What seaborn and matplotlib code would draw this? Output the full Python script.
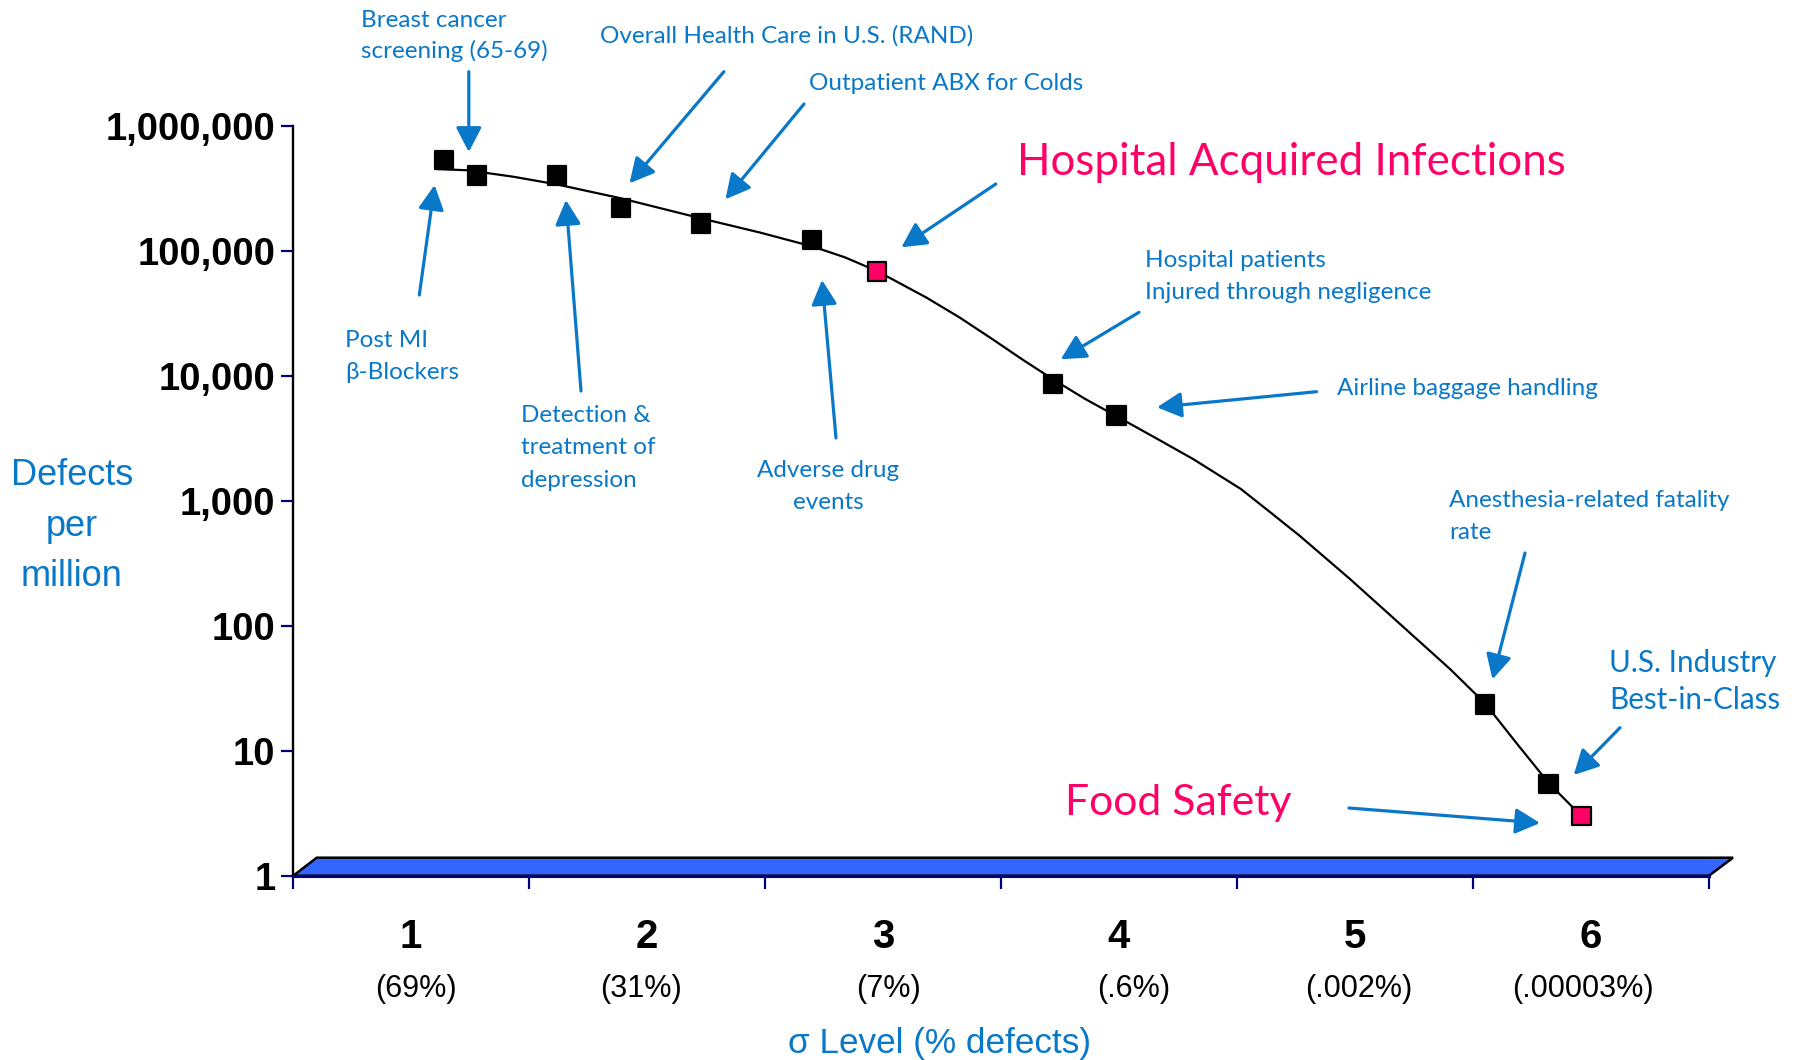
import numpy as np
import pandas as pd
import matplotlib
matplotlib.use("Agg")
import matplotlib.pyplot as plt
import seaborn as sns
from matplotlib.patches import Polygon
from matplotlib.ticker import NullLocator, FixedLocator
import matplotlib.transforms as mtrans

# ---------------- data ----------------
point_sigma = [1.14, 1.28, 1.62, 1.89, 2.23, 2.70, 2.975, 3.72, 3.99, 5.55, 5.82, 5.96]
point_dpmo = [530000, 400000, 400000, 220000, 165000, 122000, 68000, 8600, 4800, 23.5, 5.4, 3.0]
point_kind = ["base"] * 6 + ["highlight"] + ["base"] * 4 + ["highlight"]

curve_sigma = [1.106, 1.242, 1.434, 1.617, 1.890, 2.229, 2.479, 2.705, 2.839, 2.975,
               3.185, 3.326, 3.467, 3.593, 3.722, 3.856, 3.990, 4.153, 4.315, 4.517,
               4.640, 4.767, 4.979, 5.191, 5.403, 5.551, 5.685, 5.822, 5.958]
curve_dpmo = [450500, 439800, 390800, 339800, 262600, 181600, 139800, 107700, 88550, 68800,
              42150, 29160, 19450, 13410, 9324, 6535, 4742, 3197, 2152, 1240,
              812, 522, 236.4, 103.2, 45.0, 23.95, 11.46, 5.485, 3.02]

sigma_numbers = ["1", "2", "3", "4", "5", "6"]
sigma_percents = ["(69%)", "(31%)", "(7%)", "(.6%)", "(.002%)", "(.00003%)"]
y_tick_values = [1, 10, 100, 1000, 10000, 100000, 1000000]
y_tick_labels = ["1", "10", "100", "1,000", "10,000", "100,000", "1,000,000"]

# ---------------- style ----------------
W, H = 1794, 1060
BLUE = "#0A78C8"
PINK = "#FF0066"
NAVY = "#000080"
BAND = "#3366FF"

sns.set_theme(style="white")
plt.rcParams["font.family"] = ["Liberation Sans", "DejaVu Sans"]

fig = plt.figure(figsize=(W / 100, H / 100), dpi=100)
ax_l, ax_r, ax_t, ax_b = 292.7, 1709.0, 125.7, 875.7
ax = fig.add_axes([ax_l / W, 1 - ax_b / H, (ax_r - ax_l) / W, (ax_b - ax_t) / H])
ax.set_facecolor("white")


def fx(px):
    return px / W


def fy(py):
    return 1 - py / H


# ---------------- curve + points ----------------
curve_df = pd.DataFrame({"sigma": curve_sigma, "dpmo": curve_dpmo})
pts_df = pd.DataFrame({"sigma": point_sigma, "dpmo": point_dpmo, "kind": point_kind})

sns.lineplot(data=curve_df, x="sigma", y="dpmo", sort=False, estimator=None,
             color="black", lw=1.6, ax=ax, zorder=3)
sns.scatterplot(data=pts_df, x="sigma", y="dpmo", hue="kind",
                palette={"base": "black", "highlight": PINK},
                marker="s", s=175, edgecolor="black", linewidth=1.6,
                legend=False, ax=ax, zorder=4)

ax.set_yscale("log")
ax.set_ylim(1, 1e6)
ax.set_xlim(0.5, 6.5)
ax.set_xlabel("")
ax.set_ylabel("")

# y ticks
ax.yaxis.set_major_locator(FixedLocator(y_tick_values))
ax.yaxis.set_minor_locator(NullLocator())
ax.set_yticks(y_tick_values)
ax.set_yticklabels(y_tick_labels, fontsize=27.5, fontweight="bold", color="black")
ax.tick_params(axis="y", which="major", direction="out", length=8.4, width=1.6,
               color=NAVY, pad=4, left=True)

# x ticks at category boundaries, labels as text
ax.set_xticks(np.arange(0.5, 7.0, 1.0))
ax.set_xticklabels([])
ax.xaxis.set_minor_locator(NullLocator())
ax.tick_params(axis="x", which="major", direction="out", length=9.2, width=1.6,
               color=NAVY, bottom=True)

for s in ["top", "right"]:
    ax.spines[s].set_visible(False)
ax.spines["left"].set_color("black")
ax.spines["left"].set_linewidth(1.7)
ax.spines["bottom"].set_color(NAVY)
ax.spines["bottom"].set_linewidth(2.2)
ax.spines["bottom"].set_zorder(6)
ax.grid(False)

# 3-D floor band
band = Polygon([(fx(293.3), fy(875.7)), (fx(316.7), fy(857.7)),
                (fx(1733.0), fy(857.7)), (fx(1709.0), fy(875.7))],
               closed=True, transform=fig.transFigure, facecolor=BAND,
               edgecolor="black", lw=1.8, zorder=5, clip_on=False)
ax.add_patch(band)

# category labels
blend = mtrans.blended_transform_factory(ax.transData, fig.transFigure)
pct_shift_px = [5.7, -5.7, 5.7, 14.9, 3.4, -8.0]
for i, (num, pct) in enumerate(zip(sigma_numbers, sigma_percents)):
    xc = i + 1
    ax.text(xc, fy(947.5), num, transform=blend, ha="center", va="baseline",
            fontsize=29, fontweight="bold", color="black")
    ax.text(xc + pct_shift_px[i] / 236.0, fy(996.5), pct, transform=blend,
            ha="center", va="baseline", fontsize=22, color="black")

fig.text(fx(939.5), fy(1052.5), "σ Level (% defects)", ha="center", va="baseline",
         fontsize=25.3, color=BLUE)

for txt, base in [("Defects", 485), ("per", 536), ("million", 586.5)]:
    fig.text(fx(72), fy(base), txt, ha="center", va="baseline", fontsize=26,
             color=BLUE)

# ---------------- annotations ----------------
ANN = ["Lato", "DejaVu Sans"]
SMALL = 17.5


def label(lines, left, baselines, color=BLUE, size=SMALL, ha="left"):
    for t, b in zip(lines, baselines):
        fig.text(fx(left), fy(b), t, ha=ha, va="baseline", fontsize=size,
                 color=color, family=ANN)


def arrow(tail, tip):
    ax.annotate("", xy=(fx(tip[0]), fy(tip[1])), xycoords="figure fraction",
                xytext=(fx(tail[0]), fy(tail[1])), textcoords="figure fraction",
                arrowprops=dict(arrowstyle="-|>,head_length=1.0,head_width=0.52",
                                color=BLUE, lw=2.3, shrinkA=0, shrinkB=0,
                                mutation_scale=15),
                annotation_clip=False, zorder=7)


label(["Breast cancer", "screening (65-69)"], 360.6, [26.7, 58.3])
arrow((468.8, 71.7), (468.8, 152))

label(["Overall Health Care in U.S. (RAND)"], 600.4, [42.7])
arrow((723.9, 71.7), (629.5, 183.3))

label(["Outpatient ABX for Colds"], 809, [90])
arrow((804, 104), (725.4, 199.3))

label(["Hospital Acquired Infections"], 1017, [175], color=PINK, size=31.6)
arrow((995.8, 184), (901.4, 247.3))

label(["Post MI", "β-Blockers"], 345, [346.7, 379.3])
arrow((419.3, 295), (434.6, 185))

label(["Detection &", "treatment of", "depression"], 520.7, [422.3, 454.3, 486.7])
arrow((581, 391), (566, 200))

label(["Adverse drug", "events"], 828, [476.7, 508.7], ha="center")
arrow((836, 438), (822, 280))

label(["Hospital patients", "Injured through negligence"], 1145, [266.7, 299])
arrow((1139, 312.3), (1060.8, 359.3))

label(["Airline baggage handling"], 1336.7, [395])
arrow((1316.5, 391.7), (1157, 407.3))

label(["Anesthesia-related fatality", "rate"], 1449, [507.3, 539.3])
arrow((1525, 553), (1492.5, 679.3))

label(["U.S. Industry", "Best-in-Class"], 1609, [671.7, 709], size=21.3)
arrow((1620, 727.7), (1573.7, 775))

label(["Food Safety"], 1065, [815], color=PINK, size=30.8)
arrow((1349, 808), (1540, 823))

fig.savefig("out.png", dpi=100, facecolor="white")
